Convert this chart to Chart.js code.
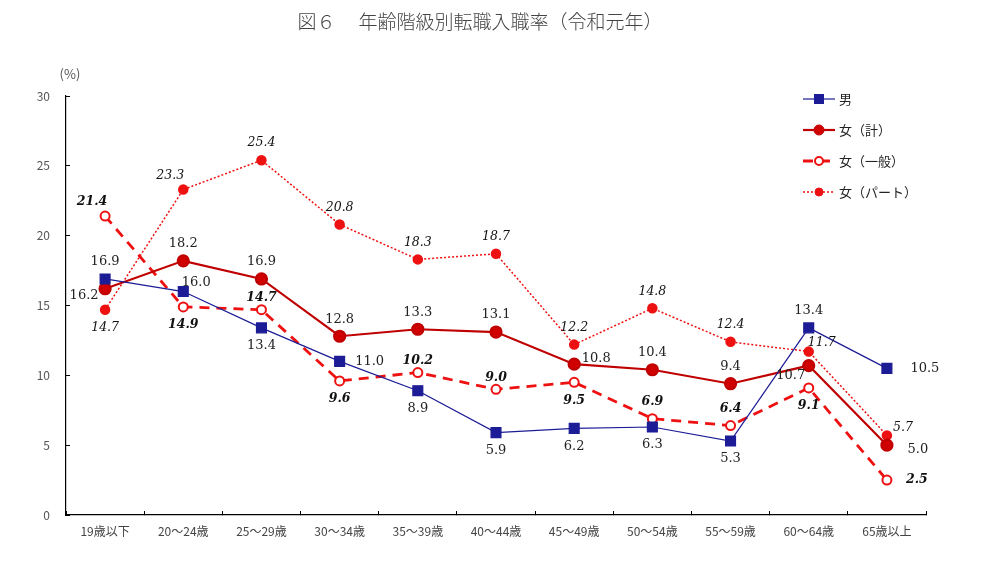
<!DOCTYPE html>
<html>
<head>
<meta charset="utf-8">
<script src="https://cdn.jsdelivr.net/npm/chart.js@4/dist/chart.umd.min.js"></script>
<style>
  html, body { margin: 0; padding: 0; background: #fff; }
  #wrap { width: 996px; height: 561px; position: relative; }
</style>
</head>
<body>
<div id="wrap"><canvas id="c"></canvas></div>
<script>
// 年齢階級別転職入職率（令和元年）
const ages = ['19歳以下', '20～24歳', '25～29歳', '30～34歳', '35～39歳', '40～44歳',
    '45～49歳', '50～54歳', '55～59歳', '60～64歳', '65歳以上'];
const male = [16.9, 16.0, 13.4, 11.0, 8.9, 5.9, 6.2, 6.3, 5.3, 13.4, 10.5];
const femaleTotal = [16.2, 18.2, 16.9, 12.8, 13.3, 13.1, 10.8, 10.4, 9.4, 10.7, 5.0];
const femaleGeneral = [21.4, 14.9, 14.7, 9.6, 10.2, 9.0, 9.5, 6.9, 6.4, 9.1, 2.5];
const femalePart = [14.7, 23.3, 25.4, 20.8, 18.3, 18.7, 12.2, 14.8, 12.4, 11.7, 5.7];
const yTicks = [0, 5, 10, 15, 20, 25, 30];

// where each value label sits relative to its point
const posMale = ['t', 'tr', 'b', 'r', 'b', 'b', 'b', 'b', 'b', 't', 'rr'];
const posTotal = ['lb', 't', 't', 't', 't', 't', 'rt', 't', 't', 'bl', 'rb'];
const posGeneral = ['tl', 'b', 'ts', 'b', 'ts', 'ts', 'b', 't', 't', 'b', 'r'];
const posPart = ['b', 'tl', 't', 't', 't', 't', 't', 't', 't', 'tr', 'trs'];

const NUM_FONT = "'DejaVu Serif', serif";
const JP_FONT = "'Noto Sans CJK JP', sans-serif";

const datasets = [
    {
        label: '男', data: male, borderColor: '#1c1c96', backgroundColor: '#1c1c96',
        borderWidth: 1.2, pointStyle: 'rect', pointRadius: 7, pointHoverRadius: 7,
        _pos: posMale, _font: '13px ' + NUM_FONT, _color: '#222',
    },
    {
        label: '女（計）', data: femaleTotal, borderColor: '#c00000', backgroundColor: '#d00000',
        borderWidth: 2.2, pointStyle: 'circle', pointRadius: 5.5, pointHoverRadius: 5.5,
        _pos: posTotal, _font: '13px ' + NUM_FONT, _color: '#222',
    },
    {
        label: '女（一般）', data: femaleGeneral, borderColor: '#ee1111', backgroundColor: '#fff',
        borderWidth: 2.8, borderDash: [10, 7], pointStyle: 'circle', pointRadius: 4.5, pointHoverRadius: 4.5,
        pointBorderWidth: 2, _pos: posGeneral, _font: 'italic bold 12.5px ' + NUM_FONT, _color: '#111',
    },
    {
        label: '女（パート）', data: femalePart, borderColor: '#ee1111', backgroundColor: '#ee1111',
        borderWidth: 1.5, borderDash: [2, 2], pointStyle: 'circle', pointRadius: 4.5, pointHoverRadius: 4.5,
        _pos: posPart, _font: 'italic 12.5px ' + NUM_FONT, _color: '#111',
    },
];

const OFFS = {
    t: [0, -17], ts: [0, -12], b: [0, 18], l: [-24, 0], r: [30, 0], rr: [38, 0],
    rt: [22, -6], rb: [31, 4], lb: [-21, 7],
    tl: [-13, -14], tr: [13, -9], trs: [16, -8], bl: [-18, 10],
};

const decor = {
    id: 'decor',
    afterDatasetsDraw(chart) {
        const { ctx } = chart;
        ctx.save();
        // value labels
        ctx.textAlign = 'center';
        ctx.textBaseline = 'middle';
        chart.data.datasets.forEach((ds, i) => {
            const meta = chart.getDatasetMeta(i);
            ctx.font = ds._font;
            ctx.fillStyle = ds._color;
            meta.data.forEach((pt, j) => {
                const o = OFFS[ds._pos[j]];
                ctx.fillText(ds.data[j].toFixed(1), pt.x + o[0], pt.y + o[1]);
            });
        });

        // title and unit
        ctx.fillStyle = '#444';
        ctx.font = '300 19px ' + JP_FONT;
        ctx.fillText('図６　 年齢階級別転職入職率（令和元年）', 480, 22);
        ctx.font = '13px ' + JP_FONT;
        ctx.fillStyle = '#555';
        ctx.fillText('(%)', 70, 74);

        // legend
        const lx = 803, ly = 99, gap = 31;
        chart.data.datasets.forEach((ds, i) => {
            const y = ly + i * gap;
            ctx.strokeStyle = ds.borderColor;
            ctx.lineWidth = ds.borderWidth;
            ctx.setLineDash(ds.borderDash || []);
            ctx.beginPath();
            ctx.moveTo(lx, y);
            ctx.lineTo(lx + 32, y);
            ctx.stroke();
            ctx.setLineDash([]);
            ctx.fillStyle = ds.backgroundColor;
            ctx.strokeStyle = ds.borderColor;
            ctx.lineWidth = ds.pointBorderWidth || 1;
            const cx = lx + 16;
            if (ds.pointStyle === 'rect') {
                ctx.fillRect(cx - 5, y - 5, 10, 10);
            } else {
                ctx.beginPath();
                ctx.arc(cx, y, i === 1 ? 5 : 4, 0, Math.PI * 2);
                ctx.fill();
                ctx.stroke();
            }
            ctx.fillStyle = '#222';
            ctx.font = '13px ' + JP_FONT;
            ctx.textAlign = 'left';
            ctx.fillText(ds.label, lx + 36, y);
        });
        ctx.restore();
    },
};

new Chart(document.getElementById('c'), {
    type: 'line',
    data: { labels: ages, datasets },
    options: {
        responsive: true,
        maintainAspectRatio: false,
        animation: false,
        layout: { padding: { left: 20, top: 96, right: 70, bottom: 16 } },
        plugins: { legend: { display: false }, tooltip: { enabled: false } },
        scales: {
            x: {
                offset: true,
                afterFit: s => { s.height = 30; },
                border: { color: '#000', width: 1.2 },
                grid: { display: true, drawOnChartArea: false, offset: true, tickLength: -4, color: '#000' },
                ticks: {
                    color: '#444', padding: 13, maxRotation: 0,
                    font: { family: JP_FONT, size: 12 },
                },
            },
            y: {
                min: 0, max: 30,
                afterFit: s => { s.width = 46; },
                afterBuildTicks: s => { s.ticks = yTicks.map(v => ({ value: v })); },
                border: { color: '#000', width: 1.2 },
                grid: { display: true, drawOnChartArea: false, tickLength: -4, color: '#000' },
                ticks: {
                    color: '#555', padding: 20,
                    font: { family: JP_FONT, size: 12 },
                },
            },
        },
    },
    plugins: [decor],
});
</script>
</body>
</html>
